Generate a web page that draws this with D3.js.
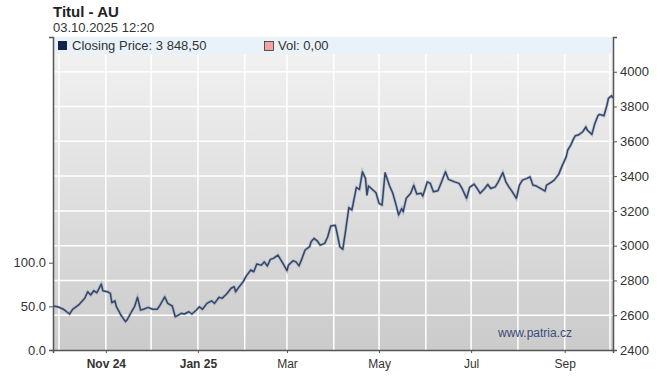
<!DOCTYPE html>
<html lang="en">
<head>
  <meta charset="UTF-8">
  <title>Titul - AU</title>
  <script src="https://cdn.jsdelivr.net/npm/d3@7"></script>
  <style>
    body { margin: 0; background: #fff; font-family: "Liberation Sans", Arial, sans-serif; }
    .tick text { font-family: "Liberation Sans", Arial, sans-serif; fill: #333; }
  </style>
</head>
<body>
  <script>
    // closing prices
    var dates = [
      "2024-09-27","2024-09-30","2024-10-04","2024-10-08","2024-10-10","2024-10-14","2024-10-18","2024-10-20",
      "2024-10-22","2024-10-24","2024-10-26","2024-10-29","2024-10-30","2024-11-02","2024-11-04","2024-11-05",
      "2024-11-07","2024-11-08","2024-11-11","2024-11-14","2024-11-15","2024-11-18","2024-11-20","2024-11-22",
      "2024-11-24","2024-11-26","2024-11-29","2024-12-02","2024-12-05","2024-12-07","2024-12-10","2024-12-12",
      "2024-12-15","2024-12-17","2024-12-21","2024-12-23","2024-12-26","2024-12-28","2024-12-31","2025-01-02",
      "2025-01-04","2025-01-07","2025-01-10","2025-01-12","2025-01-15","2025-01-17","2025-01-20","2025-01-23",
      "2025-01-25","2025-01-26","2025-01-28","2025-01-31","2025-02-02","2025-02-05","2025-02-07","2025-02-09",
      "2025-02-12","2025-02-14","2025-02-16","2025-02-18","2025-02-20","2025-02-23","2025-02-25","2025-02-27",
      "2025-03-01","2025-03-02","2025-03-05","2025-03-07","2025-03-09","2025-03-11","2025-03-13","2025-03-16",
      "2025-03-17","2025-03-19","2025-03-21","2025-03-23","2025-03-26","2025-03-28","2025-03-30","2025-04-02",
      "2025-04-03","2025-04-05","2025-04-07","2025-04-09","2025-04-11","2025-04-13","2025-04-16","2025-04-18",
      "2025-04-20","2025-04-22","2025-04-23","2025-04-24","2025-04-27","2025-04-29","2025-05-01","2025-05-03",
      "2025-05-05","2025-05-08","2025-05-10","2025-05-12","2025-05-14","2025-05-16","2025-05-17","2025-05-19",
      "2025-05-22","2025-05-24","2025-05-26","2025-05-29","2025-05-30","2025-06-02","2025-06-04","2025-06-06",
      "2025-06-09","2025-06-11","2025-06-14","2025-06-16","2025-06-20","2025-06-23","2025-06-25","2025-06-28",
      "2025-06-30","2025-07-03","2025-07-05","2025-07-07","2025-07-10","2025-07-12","2025-07-14","2025-07-17",
      "2025-07-19","2025-07-22","2025-07-24","2025-07-26","2025-07-28","2025-07-31","2025-08-02","2025-08-04",
      "2025-08-07","2025-08-09","2025-08-11","2025-08-13","2025-08-16","2025-08-19","2025-08-20","2025-08-23",
      "2025-08-25","2025-08-28","2025-08-30","2025-09-02","2025-09-03","2025-09-05","2025-09-07","2025-09-08",
      "2025-09-10","2025-09-13","2025-09-15","2025-09-16","2025-09-19","2025-09-21","2025-09-23","2025-09-24",
      "2025-09-27","2025-09-29","2025-09-30","2025-10-02","2025-10-03"
    ];
    var prices = [
      2653,2649,2634,2607,2634,2659,2697,2735,
      2716,2741,2729,2779,2741,2735,2726,2672,
      2683,2649,2601,2563,2572,2620,2649,2703,
      2630,2634,2645,2634,2634,2659,2706,2668,
      2653,2591,2611,2607,2620,2607,2630,2649,
      2634,2668,2683,2668,2703,2697,2722,2755,
      2764,2735,2760,2793,2825,2860,2850,2894,
      2888,2907,2883,2921,2927,2946,2917,2888,
      2856,2888,2913,2907,2884,2927,2975,2994,
      3022,3042,3028,3003,3013,3051,3113,3118,
      3080,2994,2979,3095,3219,3205,3335,3323,
      3425,3387,3291,3343,3320,3304,3243,3233,
      3419,3343,3304,3243,3176,3214,3195,3272,
      3301,3348,3297,3301,3285,3367,3358,3310,
      3316,3358,3425,3381,3367,3358,3329,3272,
      3335,3354,3329,3301,3329,3352,3329,3338,
      3367,3421,3367,3338,3314,3272,3348,3377,
      3387,3396,3348,3344,3329,3314,3348,3364,
      3377,3410,3453,3511,3549,3578,3617,3632,
      3636,3655,3683,3664,3640,3703,3747,3755,
      3747,3808,3847,3862,3848.5
    ];
    var priceTicks = [2400, 2600, 2800, 3000, 3200, 3400, 3600, 3800, 4000];
    var volTicks = [0, 50, 100];
    var monthTicks = ["2024-11-01","2025-01-01","2025-03-01","2025-05-01","2025-07-01","2025-09-01"];
    var monthLabels = ["Nov 24", "Jan 25", "Mar", "May", "Jul", "Sep"];

    var parse = d3.timeParse("%Y-%m-%d");
    var data = dates.map((d, i) => ({ date: parse(d), price: prices[i] }));

    var pLeft = 53, pRight = 613, pTop = 37, pBottom = 350;

    var svg = d3.select("body").append("svg")
      .attr("width", 670).attr("height", 385);

    // background gradient of the plot
    var grad = svg.append("defs").append("linearGradient")
      .attr("id", "bg").attr("x1", 0).attr("y1", 0).attr("x2", 0).attr("y2", 1);
    grad.append("stop").attr("offset", "0%").attr("stop-color", "#f3f3f3");
    grad.append("stop").attr("offset", "100%").attr("stop-color", "#cbcbcb");

    svg.append("rect")
      .attr("x", pLeft).attr("y", pTop)
      .attr("width", pRight - pLeft).attr("height", pBottom - pTop)
      .attr("fill", "url(#bg)");

    var x = d3.scaleTime()
      .domain([parse("2024-09-27"), parse("2025-10-03")])
      .range([pLeft, pRight]);
    var y = d3.scaleLinear().domain([2400, 4200]).range([pBottom, pTop]);
    var yVol = d3.scaleLinear().domain([0, 358.5]).range([pBottom, pTop]);

    // grid
    var months = d3.timeMonth.range(parse("2024-10-01"), parse("2025-10-02"));
    svg.append("g").selectAll("line").data(months).enter().append("line")
      .attr("x1", d => x(d)).attr("x2", d => x(d))
      .attr("y1", pTop).attr("y2", pBottom)
      .attr("stroke", "#fff").attr("stroke-width", 1.5);
    svg.append("g").selectAll("line").data(priceTicks.slice(1)).enter().append("line")
      .attr("x1", pLeft).attr("x2", pRight)
      .attr("y1", d => y(d)).attr("y2", d => y(d))
      .attr("stroke", "#fff").attr("stroke-width", 1.5);

    // legend band
    svg.append("rect")
      .attr("x", pLeft).attr("y", pTop)
      .attr("width", pRight - pLeft).attr("height", 17)
      .attr("fill", "#eaf2f9");

    // price line
    var line = d3.line().x(d => x(d.date)).y(d => y(d.price));
    svg.append("path").datum(data)
      .attr("d", line)
      .attr("fill", "none")
      .attr("stroke", "#9aa6ba").attr("stroke-width", 3).attr("stroke-opacity", 0.6);
    svg.append("path").datum(data)
      .attr("d", line)
      .attr("fill", "none")
      .attr("stroke", "#34456a").attr("stroke-width", 1.5)
      .attr("stroke-linejoin", "round");

    // right axis
    var axisR = svg.append("g")
      .attr("transform", "translate(" + pRight + ",0)")
      .call(d3.axisRight(y).tickValues(priceTicks).tickSize(4).tickPadding(3).tickFormat(d3.format("d")));
    axisR.selectAll("text").attr("font-size", 13);

    // left axis (volume)
    var axisL = svg.append("g")
      .attr("transform", "translate(" + pLeft + ",0)")
      .call(d3.axisLeft(yVol).tickValues(volTicks).tickSize(4).tickPadding(3).tickFormat(d3.format(".1f")));
    axisL.selectAll("text").attr("font-size", 13);

    // bottom axis
    var axisB = svg.append("g")
      .attr("transform", "translate(0," + pBottom + ")")
      .call(d3.axisBottom(x).tickValues(monthTicks.map(parse)).tickSize(3).tickPadding(6)
        .tickFormat((d, i) => monthLabels[i]));
    axisB.selectAll("text").attr("font-size", 12)
      .attr("font-weight", (d, i) => i < 2 ? "bold" : "normal");

    svg.selectAll(".domain").attr("stroke", "#555").attr("stroke-width", 1.5);
    svg.selectAll(".tick line").attr("stroke", "#555");

    // title and date
    svg.append("text").attr("x", 53).attr("y", 17)
      .attr("font-size", 15).attr("font-weight", "bold").attr("fill", "#222")
      .text("Titul - AU");
    svg.append("text").attr("x", 53).attr("y", 32)
      .attr("font-size", 13).attr("fill", "#333")
      .text("03.10.2025 12:20");

    // legend
    svg.append("rect").attr("x", 58).attr("y", 41).attr("width", 9).attr("height", 9)
      .attr("fill", "#14254a");
    svg.append("text").attr("x", 72).attr("y", 50)
      .attr("font-size", 13).attr("fill", "#333")
      .text("Closing Price: 3 848,50");
    svg.append("rect").attr("x", 264.5).attr("y", 41.5).attr("width", 9).attr("height", 9)
      .attr("fill", "#f4a3a3").attr("stroke", "#333").attr("stroke-width", 0.8);
    svg.append("text").attr("x", 278).attr("y", 50)
      .attr("font-size", 13).attr("fill", "#333")
      .text("Vol: 0,00");

    // watermark
    svg.append("text").attr("x", 572).attr("y", 337)
      .attr("text-anchor", "end")
      .attr("font-size", 12).attr("fill", "#3b4c7c")
      .text("www.patria.cz");
  </script>
</body>
</html>
